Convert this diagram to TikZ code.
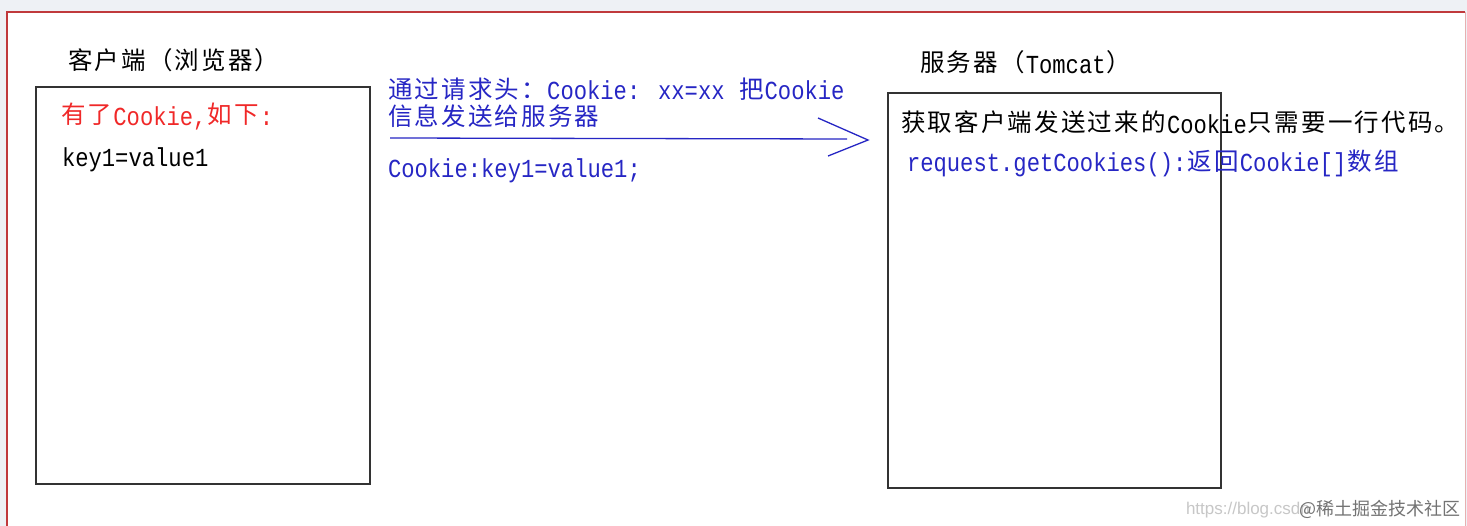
\documentclass[tikz,border=0pt]{standalone}
\usepackage{fontspec}
\newfontfamily\cjkfam{Noto Sans CJK SC}
\newfontfamily\monofam[FakeStretch=0.853]{Liberation Mono}
\newfontfamily\wmfam{Liberation Sans}
\makeatletter
\newcommand\zhT[1]{{\cjkfam\fontsize{24.5}{26}\selectfont\@tfor\zhch:=#1\do{\makebox[26.7pt][c]{\zhch}}}}
\makeatother
\newcommand\moT[1]{\raisebox{-1.7pt}{\monofam\fontsize{26}{26}\selectfont #1}}
\definecolor{frame}{HTML}{C0393C}
\definecolor{bluetxt}{HTML}{2626C4}
\definecolor{redtxt}{HTML}{F02828}
\definecolor{bgout}{HTML}{EEF1F5}
\tikzset{
  lbl/.style={anchor=base west, inner sep=0pt, outer sep=0pt},
  pane/.style={draw=black!80, line width=1.6pt},
  arr/.style={draw=bluetxt, line width=1.3pt}
}
\begin{document}
\begin{tikzpicture}[x=1pt,y=-1pt]
\useasboundingbox (0,0) rectangle (1467,526);
\fill[bgout] (0,0) rectangle (1467,526);
\fill[white] (7,12) rectangle (1466,530);
\draw[frame, line width=1.6pt] (7,540) -- (7,12) -- (1465,12);
\draw[frame!40, line width=1pt] (1465,12) -- (1465,540);
% boxes
\draw[pane] (36,87) rectangle (370,484);
\draw[pane] (888,93) rectangle (1221,488);
% left texts
\node[lbl] (tl) at (67,70) {\zhT{客户端（浏览器）}};
\node[lbl, text=redtxt] (r1) at (60,123.5) {\zhT{有了}\moT{Cookie,}\zhT{如下}\moT{:}};
\node[lbl] (k1) at (62,165.3) {\moT{key1=value1}};
% middle texts
\node[lbl, text=bluetxt] (m1) at (387,98.3) {\zhT{通过请求头：}\moT{Cookie: xx=xx }\zhT{把}\moT{Cookie}};
\node[lbl, text=bluetxt] (m2) at (387,125.3) {\zhT{信息发送给服务器}};
\node[lbl, text=bluetxt] (m3) at (388,176.3) {\moT{Cookie:key1=value1;}};
% arrow
\coordinate (aS) at (390,138);
\coordinate (aE) at (868,140);
\coordinate (aU) at (818,118);
\coordinate (aL) at (828,156);
\draw[arr] (aS) -- (847,139);
\draw[arr] (aU) -- (aE) -- (aL);
% right texts
\node[lbl] (tr) at (919,71.5) {\zhT{服务器（}\moT{Tomcat}\zhT{）}};
\node[lbl] (s1) at (900,131.5) {\zhT{获取客户端发送过来的}\moT{Cookie}\zhT{只需要一行代码。}};
\node[lbl, text=bluetxt] (s2) at (907,170.3) {\moT{request.getCookies():}\zhT{返回}\moT{Cookie[]}\zhT{数组}};
% watermark
\node[lbl, text=black!22, font=\wmfam\fontsize{17}{17}\selectfont] (w1) at (1186,514) {https://blog.csdn};
\node[lbl, text=black!55, font=\cjkfam\fontsize{18}{18}\selectfont] (w2) at (1299,515) {@稀土掘金技术社区};
\end{tikzpicture}
\end{document}
